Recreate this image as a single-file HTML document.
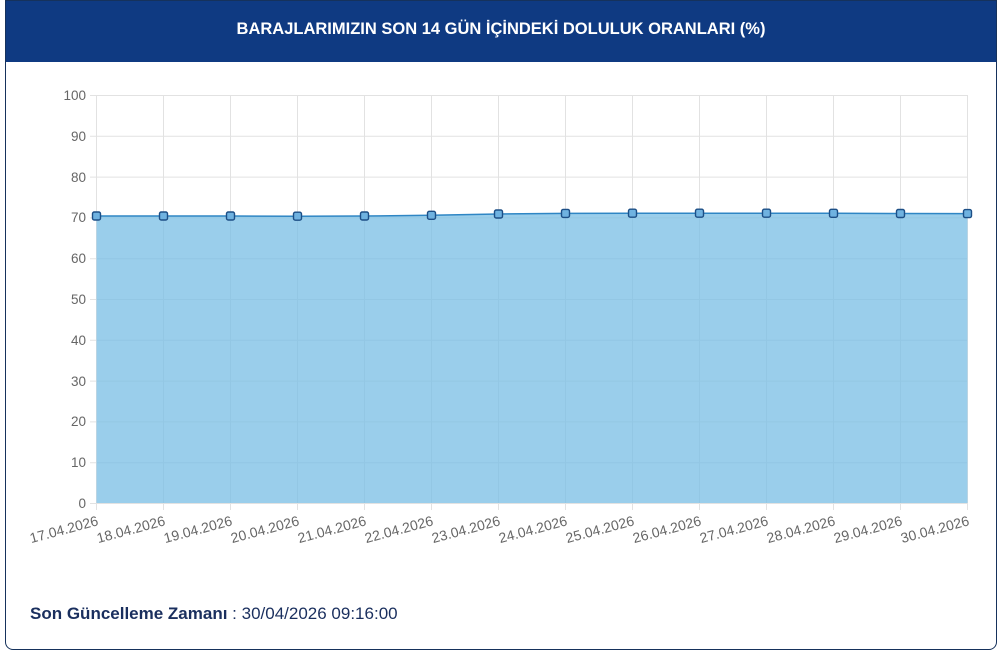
<!DOCTYPE html>
<html><head><meta charset="utf-8"><style>
html,body{margin:0;padding:0;background:#fff;width:1003px;height:653px;overflow:hidden;font-family:"Liberation Sans",sans-serif}
.card{position:absolute;left:5px;top:0;width:992px;height:650px;border:1px solid #16325c;border-radius:0 0 8px 8px;box-sizing:border-box;overflow:hidden}
.hdr{position:absolute;left:0;top:0;width:100%;height:61px;background:#0f3a82;color:#fff;font-weight:bold;font-size:16.5px;text-align:center;line-height:57px}
.foot{position:absolute;left:24px;top:603px;font-size:17px;color:#1a2f5e}
</style></head><body>
<div class="card"><div class="hdr">BARAJLARIMIZIN SON 14 GÜN İÇİNDEKİ DOLULUK ORANLARI (%)</div>
<div class="foot"><b>Son Güncelleme Zamanı</b> : 30/04/2026 09:16:00</div></div>
<svg width="1003" height="653" style="position:absolute;left:0;top:0" font-family="Liberation Sans, sans-serif">
<g stroke="#e2e2e2" stroke-width="1">
<line x1="90" y1="95.5" x2="967" y2="95.5"/><line x1="90" y1="136.3" x2="967" y2="136.3"/><line x1="90" y1="177.1" x2="967" y2="177.1"/><line x1="90" y1="217.9" x2="967" y2="217.9"/><line x1="90" y1="258.7" x2="967" y2="258.7"/><line x1="90" y1="299.5" x2="967" y2="299.5"/><line x1="90" y1="340.3" x2="967" y2="340.3"/><line x1="90" y1="381.1" x2="967" y2="381.1"/><line x1="90" y1="421.9" x2="967" y2="421.9"/><line x1="90" y1="462.7" x2="967" y2="462.7"/><line x1="90" y1="503.5" x2="967" y2="503.5"/>
<line x1="96.5" y1="95" x2="96.5" y2="510"/><line x1="163.5" y1="95" x2="163.5" y2="510"/><line x1="230.5" y1="95" x2="230.5" y2="510"/><line x1="297.5" y1="95" x2="297.5" y2="510"/><line x1="364.5" y1="95" x2="364.5" y2="510"/><line x1="431.5" y1="95" x2="431.5" y2="510"/><line x1="498.5" y1="95" x2="498.5" y2="510"/><line x1="565.5" y1="95" x2="565.5" y2="510"/><line x1="632.5" y1="95" x2="632.5" y2="510"/><line x1="699.5" y1="95" x2="699.5" y2="510"/><line x1="766.5" y1="95" x2="766.5" y2="510"/><line x1="833.5" y1="95" x2="833.5" y2="510"/><line x1="900.5" y1="95" x2="900.5" y2="510"/><line x1="967.5" y1="95" x2="967.5" y2="510"/>
</g>
<path d="M96.5 216 L163.5 216 L230.5 216 L297.5 216.2 L364.5 216 L431.5 215.3 L498.5 214 L565.5 213.4 L632.5 213.2 L699.5 213.2 L766.5 213.2 L833.5 213.3 L900.5 213.5 L967.5 213.6 L967.5 503 L96.5 503 Z" fill="rgba(120,190,228,0.75)"/>
<path d="M96.5 216 L163.5 216 L230.5 216 L297.5 216.2 L364.5 216 L431.5 215.3 L498.5 214 L565.5 213.4 L632.5 213.2 L699.5 213.2 L766.5 213.2 L833.5 213.3 L900.5 213.5 L967.5 213.6" fill="none" stroke="#2f86c4" stroke-width="1.5"/>
<g fill="#6fb2e0" stroke="#1d4f86" stroke-width="1.4">
<rect x="92.5" y="212" width="8" height="8" rx="1.8"/><rect x="159.5" y="212" width="8" height="8" rx="1.8"/><rect x="226.5" y="212" width="8" height="8" rx="1.8"/><rect x="293.5" y="212.2" width="8" height="8" rx="1.8"/><rect x="360.5" y="212" width="8" height="8" rx="1.8"/><rect x="427.5" y="211.3" width="8" height="8" rx="1.8"/><rect x="494.5" y="210" width="8" height="8" rx="1.8"/><rect x="561.5" y="209.4" width="8" height="8" rx="1.8"/><rect x="628.5" y="209.2" width="8" height="8" rx="1.8"/><rect x="695.5" y="209.2" width="8" height="8" rx="1.8"/><rect x="762.5" y="209.2" width="8" height="8" rx="1.8"/><rect x="829.5" y="209.3" width="8" height="8" rx="1.8"/><rect x="896.5" y="209.5" width="8" height="8" rx="1.8"/><rect x="963.5" y="209.6" width="8" height="8" rx="1.8"/>
</g>
<g font-size="13.5" fill="#666" text-anchor="end">
<text x="86" y="100">100</text><text x="86" y="141">90</text><text x="86" y="182">80</text><text x="86" y="222">70</text><text x="86" y="263">60</text><text x="86" y="304">50</text><text x="86" y="345">40</text><text x="86" y="386">30</text><text x="86" y="426">20</text><text x="86" y="467">10</text><text x="86" y="508">0</text>
</g>
<g font-size="14" fill="#666" text-anchor="end">
<text transform="translate(99,525) rotate(-15)">17.04.2026</text>
<text transform="translate(166,525) rotate(-15)">18.04.2026</text>
<text transform="translate(233,525) rotate(-15)">19.04.2026</text>
<text transform="translate(300,525) rotate(-15)">20.04.2026</text>
<text transform="translate(367,525) rotate(-15)">21.04.2026</text>
<text transform="translate(434,525) rotate(-15)">22.04.2026</text>
<text transform="translate(501,525) rotate(-15)">23.04.2026</text>
<text transform="translate(568,525) rotate(-15)">24.04.2026</text>
<text transform="translate(635,525) rotate(-15)">25.04.2026</text>
<text transform="translate(702,525) rotate(-15)">26.04.2026</text>
<text transform="translate(769,525) rotate(-15)">27.04.2026</text>
<text transform="translate(836,525) rotate(-15)">28.04.2026</text>
<text transform="translate(903,525) rotate(-15)">29.04.2026</text>
<text transform="translate(970,525) rotate(-15)">30.04.2026</text>
</g>
</svg>
</body></html>
